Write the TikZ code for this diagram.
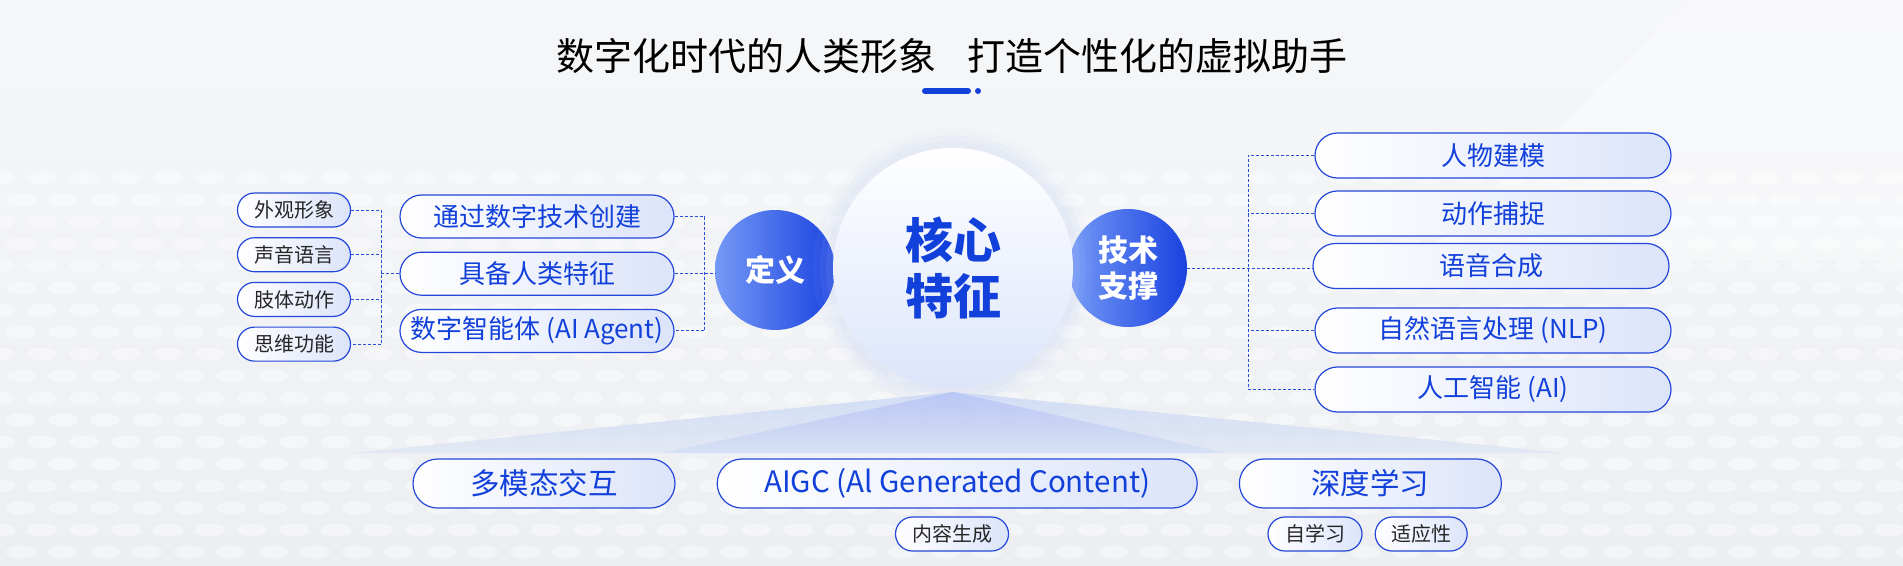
\documentclass[tikz,border=0pt]{standalone}
\usepackage{fontspec}
\setmainfont{Noto Sans CJK SC}
\usepackage{tikz}
\usetikzlibrary{arrows,positioning,shapes.misc}
\definecolor{mainblue}{HTML}{1240DA}
\definecolor{pillborder}{HTML}{2447D9}
\definecolor{pillfill}{HTML}{DCE4FA}
\definecolor{ballleft}{HTML}{7499F6}
\definecolor{ballright}{HTML}{1A42E0}
\definecolor{corebottom}{HTML}{DCE5FB}
\definecolor{linkblue}{HTML}{2A4FD8}
\definecolor{bgtop}{HTML}{F6F7F9}
\definecolor{bgbottom}{HTML}{ECEEF1}
\definecolor{fanblue}{HTML}{C9D8F6}
\definecolor{haloblue}{HTML}{B9CBF5}
\tikzset{
    %Define style for pills
    pill/.style={
           rounded rectangle,
           draw=pillborder, line width=1.2pt,
           left color=white, right color=pillfill,
           inner xsep=0pt, inner ysep=0pt,
           text centered},
    smallpill/.style={
           pill,
           minimum width=113pt, minimum height=34pt,
           font=\fontsize{20}{24}\selectfont, text=black!85},
    midpill/.style={
           pill,
           minimum width=274pt, minimum height=43pt,
           font=\fontsize{26}{30}\selectfont, text=mainblue},
    techpill/.style={
           pill,
           minimum width=356pt, minimum height=45pt,
           font=\fontsize{26}{30}\selectfont, text=mainblue},
    basepill/.style={
           pill,
           minimum height=49pt,
           font=\fontsize{29.5}{34}\selectfont, text=mainblue},
    %Define style for circles
    ball/.style={
           circle,
           left color=ballleft, right color=ballright,
           inner sep=0pt, align=center,
           text=white, font=\bfseries\fontsize{30}{36}\selectfont},
    core/.style={
           circle,
           minimum size=240pt,
           top color=white, bottom color=corebottom,
           inner sep=0pt, align=center,
           text=mainblue, font=\bfseries\fontsize{48}{56}\selectfont},
    % Define dashed connector style
    link/.style={
           draw=linkblue, line width=1pt,
           dash pattern=on 3pt off 2pt}
}

\begin{document}
\begin{tikzpicture}[x=1pt,y=-1pt,node distance=9.5pt]
\useasboundingbox (0,0) rectangle (1903,565);
% background
\shade[top color=bgtop, bottom color=bgbottom] (0,0) rectangle (1903,565);
\fill[white, opacity=0.35] (1690,0) -- (1903,0) -- (1903,260) -- (1420,260) -- cycle;
\foreach \row in {0,...,17}{
  \foreach \col in {0,...,46}{
    \fill[white, opacity=0.4] ({\col*42+mod(\row,2)*21},{178+\row*22}) ellipse [x radius=15, y radius=6.5];
  }
}
\shade[top color=fanblue, bottom color=fanblue!35!bgbottom, opacity=0.8] (953,392) -- (352,453) -- (1566,453) -- cycle;
\shade[top color=fanblue!80!blue, bottom color=fanblue, opacity=0.45] (953,392) -- (661,453) -- (1226,453) -- cycle;

% title
\node (title) at (952,56) {\fontsize{38}{44}\selectfont 数字化时代的人类形象\hspace{0.8em}打造个性化的虚拟助手};
\draw[line width=6pt, line cap=round, mainblue] (925,91) -- (968,91);
\fill[mainblue] (978,91) circle (3);

% circles
\node[ball, minimum size=120pt] (def) at (775,270) {定义};
\node[ball, minimum size=118pt] (tech) at (1128,268) {技术\\支撑};
\coordinate (corec) at (953,268);
\foreach \r/\op in {140/0.06,133/0.08,127/0.1}
  \fill[haloblue, opacity=\op] (corec) circle (\r);
\node[core] (core) at (corec) {核心\\特征};

% definition branch
\node[midpill] (m1) at (537,216.5) {通过数字技术创建};
\node[midpill, below=13pt of m1] (m2) {具备人类特征};
\node[midpill, below=13pt of m2] (m3) {数字智能体 (AI Agent)};

\node[smallpill] (s1) at (294,210) {外观形象};
\node[smallpill, below=of s1] (s2) {声音语言};
\node[smallpill, below=of s2] (s3) {肢体动作};
\node[smallpill, below=of s3] (s4) {思维功能};

\coordinate (lbus) at ([xshift=-18pt]m2.west);
\draw[link] (s1.east) -- (s1.east -| lbus) -- (s4.east -| lbus) -- (s4.east);
\draw[link] (s2.east) -- (s2.east -| lbus);
\draw[link] (s3.east) -- (s3.east -| lbus);
\draw[link] (lbus) -- (m2.west);

\coordinate (mbus) at ([xshift=30pt]m2.east);
\draw[link] (m1.east) -- (m1.east -| mbus) -- (m3.east -| mbus) -- (m3.east);
\draw[link] (m2.east) -- (m2.east -| def.west);

% technology branch
\node[techpill] (r1) at (1493,155.5) {人物建模};
\node[techpill] (r2) at (1493,213.5) {动作捕捉};
\node[techpill] (r3) at (1491,266) {语音合成};
\node[techpill] (r4) at (1493,330.5) {自然语言处理 (NLP)};
\node[techpill] (r5) at (1493,389.5) {人工智能 (AI)};

\coordinate (rbus) at (1248,268);
\draw[link] (r1.west) -- (r1.west -| rbus) -- (r5.west -| rbus) -- (r5.west);
\foreach \n in {r2,r4}
  \draw[link] (\n.west) -- (\n.west -| rbus);
\draw[link] (tech.east) -- (tech.east -| r3.west);

% bottom row
\node[basepill, minimum width=262pt] (b1) at (544,483.5) {多模态交互};
\node[basepill, minimum width=480pt, right=41pt of b1] (b2) {AIGC (Al Generated Content)};
\node[basepill, minimum width=262pt, right=41pt of b2] (b3) {深度学习};

\node[smallpill] (c1) at (952,534) {内容生成};
\node[smallpill, minimum width=94pt] (c2) at (1315,534) {自学习};
\node[smallpill, minimum width=92pt, right=12pt of c2] (c3) {适应性};
\end{tikzpicture}
\end{document}
